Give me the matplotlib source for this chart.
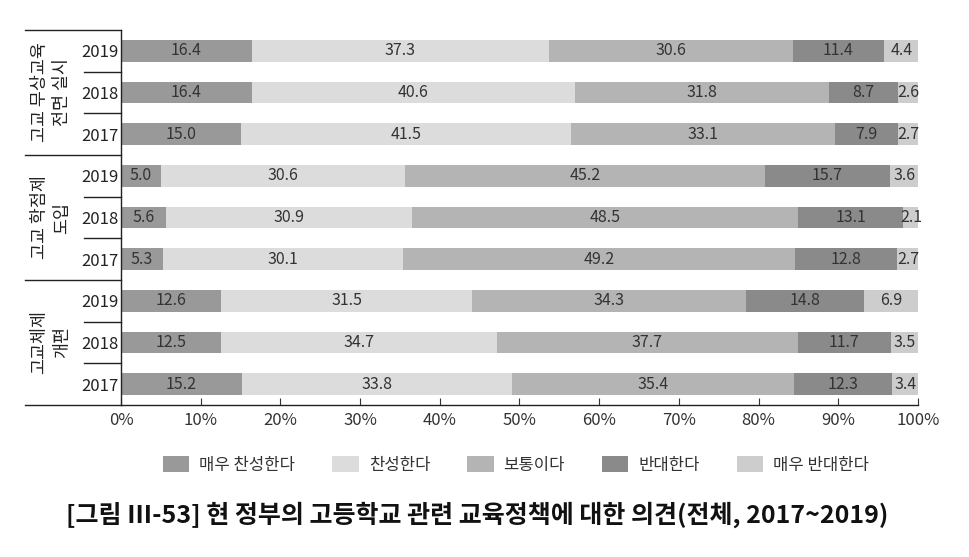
import numpy as np
import matplotlib.pyplot as plt
from matplotlib.patches import Patch

plt.rcParams['font.family'] = ['Noto Sans CJK KR', 'DejaVu Sans']

# ==================== 데이터 ====================
groups = ['고교 무상교육\n전면 실시', '고교 학점제\n도입', '고교체제\n개편']
years = ['2019', '2018', '2017']
categories = ['매우 찬성한다', '찬성한다', '보통이다', '반대한다', '매우 반대한다']
colors = ['#999999', '#dcdcdc', '#b4b4b4', '#8a8a8a', '#cdcdcd']

strongly_agree = [16.4, 16.4, 15.0, 5.0, 5.6, 5.3, 12.6, 12.5, 15.2]
agree = [37.3, 40.6, 41.5, 30.6, 30.9, 30.1, 31.5, 34.7, 33.8]
neutral = [30.6, 31.8, 33.1, 45.2, 48.5, 49.2, 34.3, 37.7, 35.4]
disagree = [11.4, 8.7, 7.9, 15.7, 13.1, 12.8, 14.8, 11.7, 12.3]
strongly_disagree = [4.4, 2.6, 2.7, 3.6, 2.1, 2.7, 6.9, 3.5, 3.4]

series = [strongly_agree, agree, neutral, disagree, strongly_disagree]
row_labels = years * len(groups)
n = len(row_labels)
ypos = np.arange(n)

# ==================== 그림 ====================
fig = plt.figure(figsize=(9.7, 5.57), dpi=100)
ax = fig.add_axes([121 / 970, 1 - 405 / 557, (918 - 121) / 970, 375 / 557])

left = np.zeros(n)
for vals, col in zip(series, colors):
    vals = np.array(vals)
    ax.barh(ypos, vals, left=left, height=0.52, color=col, edgecolor='none')
    for y, l, v in zip(ypos, left, vals):
        ax.text(l + v / 2, y, f'{v:.1f}', ha='center', va='center',
                fontsize=11.5, color='#333333')
    left += vals

ax.set_xlim(0, 100)
ax.set_ylim(n - 0.5, -0.5)
ax.set_xticks(np.arange(0, 101, 10))
ax.set_xticklabels([f'{t}%' for t in range(0, 101, 10)], fontsize=12, color='#333333')
ax.set_yticks(ypos)
ax.set_yticklabels(row_labels, fontsize=12, color='#222222')
ax.tick_params(axis='y', length=0, pad=2)
ax.tick_params(axis='x', direction='in', length=5, width=0.8, pad=5, colors='#333333')
ax.spines['top'].set_visible(False)
ax.spines['right'].set_visible(False)
for s in ['left', 'bottom']:
    ax.spines[s].set_linewidth(1.0)
    ax.spines[s].set_color('#222222')

# 그룹 구분선, 연도 구분선
tr = ax.get_yaxis_transform()
x_group = (25 - 121) / (918 - 121)
x_year = (84 - 121) / (918 - 121)
for b in np.arange(-0.5, n, 3):
    ax.plot([x_group, 0], [b, b], transform=tr, color='#222222', lw=1.0, clip_on=False)
for i in range(n - 1):
    b = i + 0.5
    if (i + 1) % 3 != 0:
        ax.plot([x_year, 0], [b, b], transform=tr, color='#222222', lw=1.0, clip_on=False)

x_glabel = (51 - 121) / (918 - 121)
for g, name in enumerate(groups):
    ax.text(x_glabel, g * 3 + 1, name, transform=tr, rotation=90, ha='center', va='center',
            fontsize=12.5, color='#222222', linespacing=1.35, multialignment='center')

# 범례
handles = [Patch(facecolor=c, edgecolor='none') for c in colors]
fig.legend(handles, categories, loc='center', bbox_to_anchor=(0.532, 0.165), ncol=5,
           frameon=False, fontsize=12, handlelength=1.6, handleheight=1.1,
           columnspacing=2.2, handletextpad=0.6, labelcolor='#333333')

fig.text(0.492, 0.075, '[그림 Ⅲ-53] 현 정부의 고등학교 관련 교육정책에 대한 의견(전체, 2017~2019)',
         ha='center', va='center', fontsize=18, fontweight='bold', color='#111111')

fig.savefig('out.png', dpi=100)
